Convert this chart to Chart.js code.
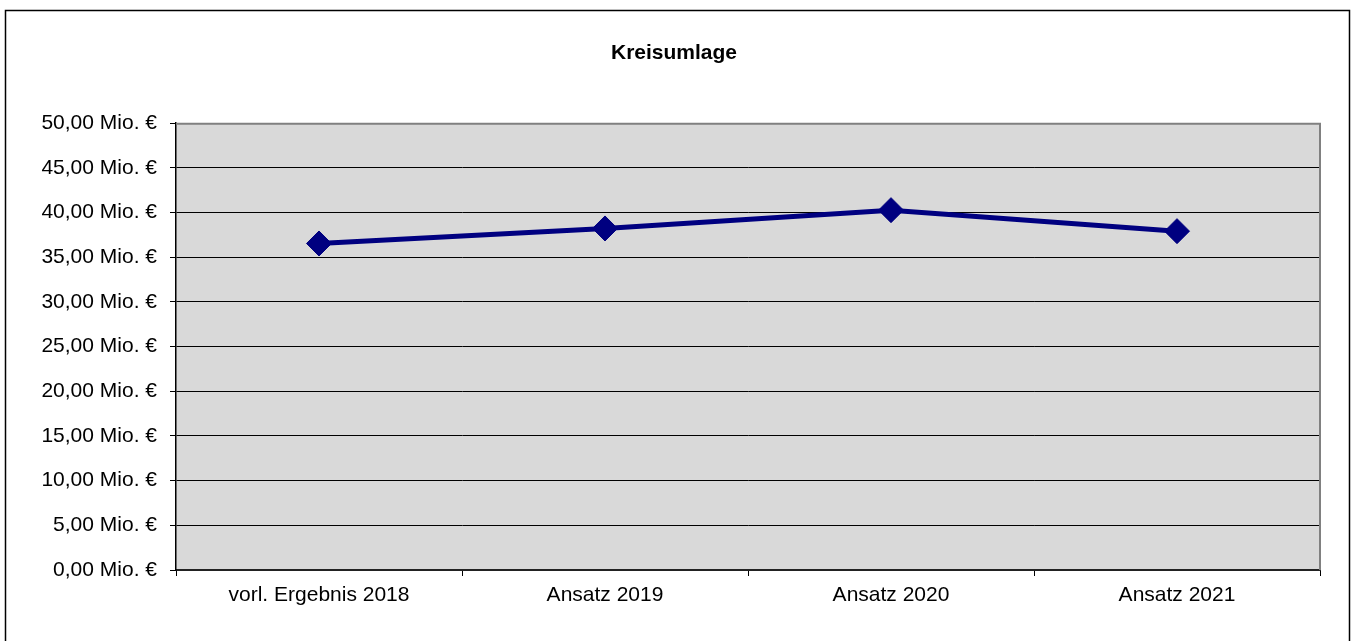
<!DOCTYPE html>
<html>
<head>
<meta charset="utf-8">
<script src="https://cdn.jsdelivr.net/npm/chart.js@4/dist/chart.umd.min.js"></script>
<style>
html,body{margin:0;padding:0;background:#fff;}
canvas{display:block;}
</style>
</head>
<body>
<canvas id="c" width="1353" height="641"></canvas>
<script>
const chartTitle = 'Kreisumlage';
const categories = ['vorl. Ergebnis 2018', 'Ansatz 2019', 'Ansatz 2020', 'Ansatz 2021'];
const kreisumlage = [36.54, 38.22, 40.27, 37.92];
const yMin = 0, yMax = 50, yStep = 5;

function fmt(v){ return v.toFixed(2).replace('.', ',') + ' Mio. €'; }

const frame = {
  id: 'frame',
  beforeDraw(chart){
    const {ctx, chartArea:a} = chart;
    ctx.save();
    ctx.fillStyle = '#fff';
    ctx.fillRect(0,0,chart.width,chart.height);
    ctx.fillStyle = '#d9d9d9';
    ctx.fillRect(a.left, a.top, a.right-a.left, a.bottom-a.top);
    ctx.strokeStyle = '#000';
    ctx.lineWidth = 1.5;
    ctx.beginPath();
    ctx.moveTo(5.5, 641);
    ctx.lineTo(5.5, 10.5);
    ctx.lineTo(1349.5, 10.5);
    ctx.lineTo(1349.5, 641);
    ctx.stroke();
    ctx.restore();
  },
  beforeDatasetsDraw(chart){
    const {ctx, chartArea:a} = chart;
    ctx.save();
    ctx.strokeStyle = '#808080';
    ctx.lineWidth = 2;
    ctx.beginPath();
    ctx.moveTo(a.left, a.top+0.5);
    ctx.lineTo(a.right, a.top+0.5);
    ctx.lineTo(a.right, a.bottom);
    ctx.stroke();
    ctx.restore();
  }
};

new Chart(document.getElementById('c'), {
  type: 'line',
  data: {
    labels: categories,
    datasets: [{
      label: chartTitle,
      data: kreisumlage,
      borderColor: '#000080',
      backgroundColor: '#000080',
      borderWidth: 5,
      pointStyle: 'rectRot',
      pointRadius: 12.5,
      pointBorderWidth: 1,
      pointBackgroundColor: '#000080',
      pointBorderColor: '#000080',
      tension: 0,
      fill: false
    }]
  },
  options: {
    responsive: false,
    devicePixelRatio: 1,
    animation: false,
    events: [],
    layout: { padding: { left: 28, top: 0, right: 33, bottom: 0 } },
    plugins: {
      legend: { display: false },
      tooltip: { enabled: false },
      title: {
        display: true,
        text: chartTitle,
        color: '#000',
        font: { family: '"Liberation Sans", Arial, sans-serif', size: 21, weight: 'bold' },
        padding: { top: 41, bottom: 57 }
      }
    },
    scales: {
      x: {
        type: 'category',
        offset: true,
        afterFit(s){ s.height = 71; },
        grid: { display: true, drawOnChartArea: false, drawTicks: true, tickLength: 6, color: '#000', offset: true },
        border: { display: true, color: '#222', width: 2 },
        ticks: { color: '#000', padding: 7, maxRotation: 0, autoSkip: false,
          font: { family: '"Liberation Sans", Arial, sans-serif', size: 21 } }
      },
      y: {
        min: yMin, max: yMax,
        afterFit(s){ s.width = 148; },
        grid: { color: '#000', lineWidth: 1, drawTicks: true, tickLength: 6 },
        border: { display: true, color: '#000', width: 1.5 },
        ticks: { stepSize: yStep, color: '#000', padding: 13,
          callback: v => fmt(v),
          font: { family: '"Liberation Sans", Arial, sans-serif', size: 21 } }
      }
    }
  },
  plugins: [frame]
});
</script>
</body>
</html>
